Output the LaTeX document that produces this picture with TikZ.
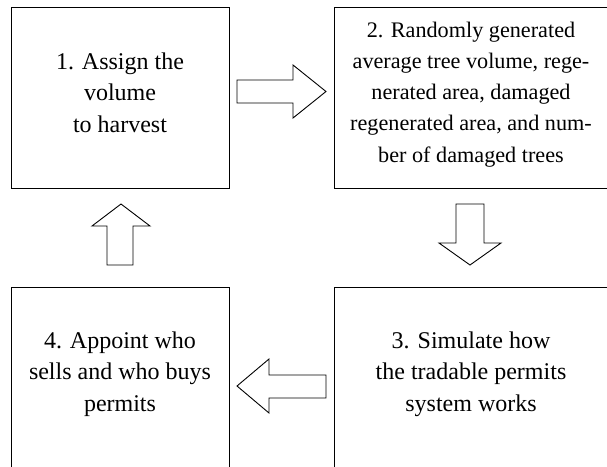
\documentclass[tikz,border=0pt]{standalone}
\usepackage{fontspec}
\setmainfont{Liberation Serif}
\begin{document}
\begin{tikzpicture}[x=1pt,y=-1pt,
  box/.style={draw,line width=1pt,rectangle,inner sep=0pt},
  txt/.style={align=center,inner sep=0pt,font=\fontsize{24}{31.5}\selectfont},
  smalltxt/.style={align=center,inner sep=0pt,font=\fontsize{22.2}{31.25}\selectfont},
  blockarrow/.style={draw,line width=0.9pt,line join=miter}]
\useasboundingbox (0,0) rectangle (607,466);
\clip (0,0) rectangle (607,466);
% boxes
\node[box,minimum width=218pt,minimum height=181pt] (b1) at (120,97.5) {};
\node[box,minimum width=275pt,minimum height=181pt] (b2) at (471.5,97.5) {};
\node[box,minimum width=275pt,minimum height=183pt] (b3) at (471.5,378.5) {};
\node[box,minimum width=218pt,minimum height=183pt] (b4) at (120,378.5) {};
% texts (base anchor = baseline of the last line)
\node[txt,anchor=base] (t1) at (120,132) {1. Assign the\\volume\\to harvest};
\node[smalltxt,anchor=base] (t2) at (471,162) {2. Randomly generated\\average tree volume, rege-\\nerated area, damaged\\regenerated area, and num-\\ber of damaged trees};
\node[txt,anchor=base] (t3) at (471,411) {3. Simulate how\\the tradable permits\\system works};
\node[txt,anchor=base] (t4) at (120,411) {4. Appoint who\\sells and who buys\\permits};
% block arrows
\draw[blockarrow] (237,80) -- (293,80) -- (293,65) -- (326,91.5) -- (293,118) -- (293,103) -- (237,103) -- cycle;
\draw[blockarrow] (456,204) -- (484,204) -- (484,243) -- (501,243) -- (470,265) -- (439,243) -- (456,243) -- cycle;
\draw[blockarrow] (326,375) -- (269,375) -- (269,359) -- (237,386) -- (269,413) -- (269,398) -- (326,398) -- cycle;
\draw[blockarrow] (107,265) -- (107,226) -- (92,226) -- (121,204) -- (150,226) -- (133,226) -- (133,265) -- cycle;
\end{tikzpicture}
\end{document}
